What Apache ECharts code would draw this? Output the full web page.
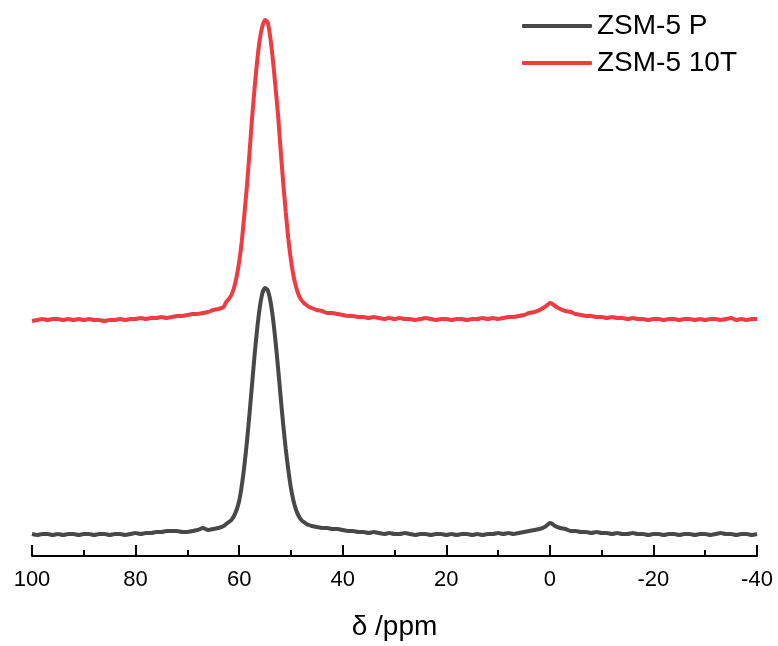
<!DOCTYPE html>
<html>
<head>
<meta charset="utf-8">
<script src="https://cdn.jsdelivr.net/npm/echarts@6/dist/echarts.min.js"></script>
<style>
  html, body { margin: 0; padding: 0; background: #fff; }
  #chart { width: 778px; height: 646px; }
</style>
</head>
<body>
<div id="chart"></div>
<script>
// chemical shift (ppm), shared by both spectra
let ppm = [
  100, 99, 98, 97, 96, 95, 94, 93, 92, 91, 90, 89, 88, 87, 86, 85, 84, 83, 82, 81,
  80, 79, 78, 77, 76, 75, 74, 73, 72, 71, 70, 69, 68, 67, 66, 65, 64, 63,
  62.5, 62, 61.5, 61, 60.5, 60, 59.5, 59, 58.5, 58, 57.5, 57, 56.5, 56, 55.5, 55,
  54.5, 54, 53.5, 53, 52.5, 52, 51.5, 51, 50.5, 50, 49.5, 49, 48.5, 48, 47.5, 47, 46.5, 46,
  45, 44, 43, 42, 41, 40, 39, 38, 37, 36, 35, 34, 33, 32, 31, 30, 29, 28, 27, 26,
  25, 24, 23, 22, 21, 20, 19, 18, 17, 16, 15, 14, 13, 12, 11, 10, 9, 8, 7, 6, 5, 4, 3, 2,
  1, 0.5, 0, -0.5, -1,
  -2, -3, -4, -5, -6, -7, -8, -9, -10, -11, -12, -13, -14, -15, -16, -17, -18, -19, -20,
  -21, -22, -23, -24, -25, -26, -27, -28, -29, -30, -31, -32, -33, -34, -35, -36, -37, -38, -39, -40
];

// intensity (a.u.), ZSM-5 P
let zsmP = [
  22, 21, 22, 22, 21, 22, 21, 22, 22, 21, 22, 22, 21, 22, 22, 21, 22, 22, 21, 22,
  23, 22, 23, 23, 24, 24, 25, 25, 25, 24, 24, 25, 26, 28, 26, 27, 28, 30,
  32, 34, 36, 40, 46, 55, 70, 90, 114, 142, 172, 202, 228, 249, 263, 268,
  266, 256, 239, 216, 189, 160, 132, 107, 86, 68, 55, 46, 40, 36, 34, 32, 31, 30,
  29, 28, 28, 27, 27, 26, 25, 25, 24, 24, 23, 24, 23, 22, 23, 22, 22, 23, 22, 21,
  22, 22, 21, 22, 22, 21, 22, 21, 22, 22, 21, 22, 21, 22, 22, 23, 22, 23, 22, 23, 24, 25, 26, 27,
  29, 31, 33, 32, 30,
  28, 27, 25, 25, 24, 24, 23, 24, 23, 23, 22, 23, 22, 22, 23, 22, 22, 21, 22,
  22, 21, 22, 22, 21, 22, 22, 21, 22, 22, 21, 22, 23, 22, 22, 21, 22, 22, 21, 22
];

// intensity (a.u.), ZSM-5 10T
let zsm10T = [
  235, 236, 237, 236, 237, 237, 236, 237, 236, 237, 236, 237, 236, 236, 235, 236, 236, 237, 236, 237,
  237, 238, 237, 238, 238, 239, 238, 239, 240, 240, 241, 242, 242, 243, 244, 246, 247, 249,
  254, 257, 261, 268, 279, 294, 314, 341, 370, 403, 438, 469, 496, 517, 530, 536,
  534, 519, 497, 470, 442, 407, 374, 344, 317, 296, 280, 269, 261, 256, 253, 251, 249, 248,
  246, 245, 243, 243, 242, 241, 240, 240, 239, 239, 238, 239, 238, 237, 238, 237, 238, 237, 237, 236,
  237, 238, 237, 236, 237, 237, 236, 237, 237, 236, 237, 237, 238, 237, 238, 237, 238, 239, 239, 240, 241, 243, 244, 246,
  249, 251, 253, 252, 250,
  247, 245, 244, 242, 241, 240, 240, 239, 239, 238, 239, 238, 238, 237, 238, 237, 237, 236, 237,
  237, 236, 237, 237, 236, 237, 237, 236, 237, 236, 237, 237, 236, 237, 238, 236, 237, 236, 237, 237
];

let seriesNames = ['ZSM-5 P', 'ZSM-5 10T'];
let seriesColors = ['#484848', '#ef3c40'];
let xTicks = { min: -40, max: 100, step: 20 };

let pairs = (xs, ys) => xs.map((x, i) => [x, ys[i]]);

let chart = echarts.init(document.querySelector('#chart'));
chart.setOption({
  animation: false,
  backgroundColor: '#fff',
  grid: {
    left: 32,
    right: 21,
    top: 10,
    bottom: 90
  },
  legend: {
    orient: 'vertical',
    left: 517,
    top: 6,
    icon: 'roundRect',
    itemWidth: 70,
    itemHeight: 4,
    itemGap: 7,
    data: seriesNames,
    textStyle: {
      fontFamily: 'Liberation Sans',
      fontSize: 28,
      color: '#000',
      lineHeight: 30
    }
  },
  xAxis: {
    type: 'value',
    inverse: true,
    min: xTicks.min,
    max: xTicks.max,
    interval: xTicks.step,
    name: 'δ /ppm',
    nameLocation: 'middle',
    nameGap: 57,
    nameTextStyle: {
      fontFamily: 'Liberation Sans',
      fontSize: 28,
      color: '#000'
    },
    axisLine: { lineStyle: { color: '#000', width: 2 } },
    axisTick: { inside: true, length: 11, lineStyle: { color: '#000', width: 2 } },
    minorTick: { show: true, splitNumber: 2, length: 6, lineStyle: { color: '#000', width: 2 } },
    splitLine: { show: false },
    axisLabel: {
      margin: 13,
      fontFamily: 'Liberation Sans',
      fontSize: 22,
      color: '#000'
    }
  },
  yAxis: {
    type: 'value',
    min: 0,
    max: 546,
    show: false
  },
  series: seriesNames.map((name, i) => ({
    name: name,
    type: 'line',
    showSymbol: false,
    smooth: 0.2,
    color: seriesColors[i],
    lineStyle: { width: 4, color: seriesColors[i] },
    data: pairs(ppm, i === 0 ? zsmP : zsm10T)
  }))
});
</script>
</body>
</html>
